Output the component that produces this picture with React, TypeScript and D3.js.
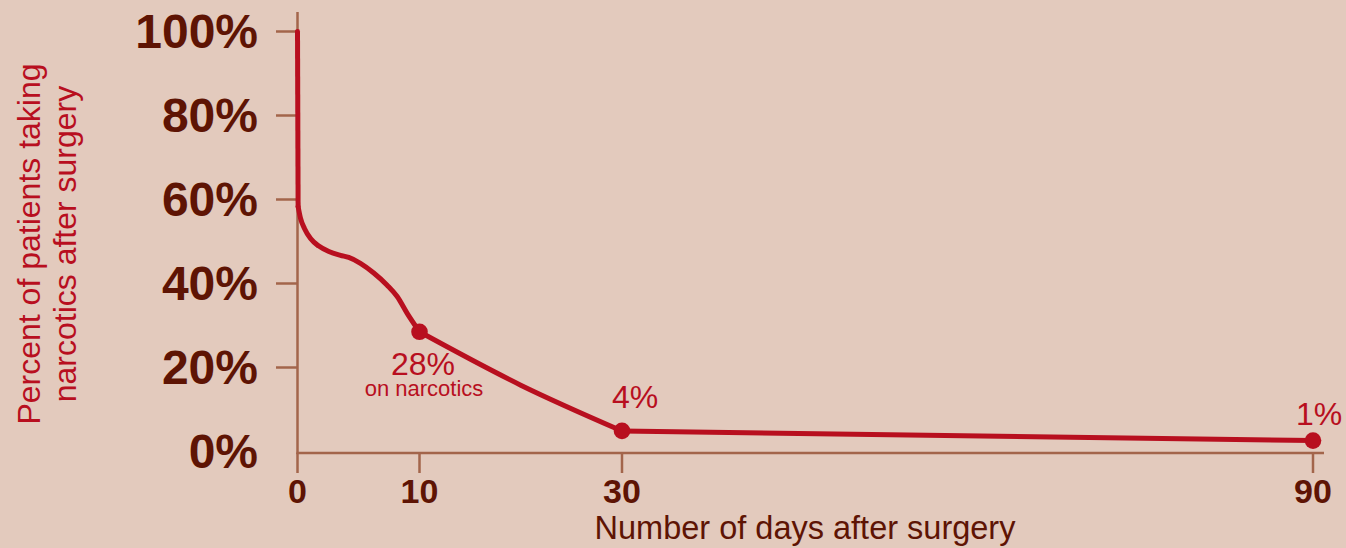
import * as d3 from "d3";

// days after surgery and percent still on narcotics
const days = [0, 0.05, 0.25, 0.57, 1.07, 1.75, 2.57, 3.52, 4.2, 5.16, 6.25, 7.35, 8.17, 8.99, 10, 20, 30, 90];
const percent = [100, 58.3, 55.5, 53.1, 50.7, 48.9, 47.6, 46.7, 46.2, 44.8, 42.5, 39.6, 36.9, 32.9, 28.5, 15.8, 4.9, 2.6];

const markerDays = [10, 30, 90];
const markerPercent = [28.5, 4.9, 2.6];
const markerLabels = ["28%", "4%", "1%"];

const xTicks = [0, 10, 30, 90];
const yTicks = [20, 40, 60, 80, 100];
const yTickLabels = ["0%", "20%", "40%", "60%", "80%", "100%"];

const W = 1346;
const H = 548;
const FONT = "'Liberation Sans', Arial, Helvetica, sans-serif";
const BG = "#e3cabd";
const AXIS = "#a3654b";
const DARK = "#5e1404";
const RED = "#b80f1f";

type Pt = [number, number];

export default function App() {
  // the x axis is not linear in the original: each labelled day has its own spot
  const x = d3.scaleLinear().domain([0, 10, 30, 90]).range([297.5, 419.5, 622, 1313]);
  const y = d3.scaleLinear().domain([0, 100]).range([451.5, 31.5]);

  const pts: Pt[] = days.map((d, i) => [d, percent[i]]);
  const i10 = days.indexOf(10);
  const i30 = days.indexOf(30);

  const smooth = d3
    .line<Pt>()
    .x((d) => x(d[0]))
    .y((d) => y(d[1]))
    .curve(d3.curveMonotoneX);
  const straight = d3
    .line<Pt>()
    .x((d) => x(d[0]))
    .y((d) => y(d[1]));

  // drop straight down first, then smooth pieces with sharp joins at the markers
  const pieces = [
    straight(pts.slice(0, 2)),
    smooth(pts.slice(1, i10 + 1)),
    smooth(pts.slice(i10, i30 + 1)),
    straight(pts.slice(i30)),
  ];

  const axisY = 453;

  return (
    <svg width={W} height={H} style={{ position: "absolute", left: 0, top: 0 }} fontFamily={FONT}>
      <rect width={W} height={H} fill={BG} />

      {/* axes */}
      <line x1={x(0)} x2={x(0)} y1={12} y2={axisY + 1} stroke={AXIS} strokeWidth={2.5} />
      <line x1={x(0) - 1} x2={1324} y1={axisY} y2={axisY} stroke={AXIS} strokeWidth={2.5} />
      {yTicks.map((t) => (
        <line key={t} x1={276} x2={x(0)} y1={y(t)} y2={y(t)} stroke={AXIS} strokeWidth={2.5} />
      ))}
      {xTicks.map((t) => (
        <line key={t} x1={x(t)} x2={x(t)} y1={axisY} y2={473} stroke={AXIS} strokeWidth={2.5} />
      ))}

      {/* tick labels */}
      {[0, ...yTicks].map((t, i) => (
        <text key={t} x={258} y={y(t) + 16.5} textAnchor="end" fontSize={48} fontWeight="bold" fill={DARK}>
          {yTickLabels[i]}
        </text>
      ))}
      {xTicks.map((t) => (
        <text key={t} x={x(t)} y={503} textAnchor="middle" fontSize={34} fontWeight="bold" fill={DARK}>
          {t}
        </text>
      ))}

      {/* axis titles */}
      <text x={805} y={539} textAnchor="middle" fontSize={32.5} fill={DARK}>
        Number of days after surgery
      </text>
      <g transform="translate(40,244) rotate(-90)">
        <text x={0} y={0} textAnchor="middle" fontSize={32} fill={RED}>
          Percent of patients taking
        </text>
        <text x={0} y={36} textAnchor="middle" fontSize={32} fill={RED}>
          narcotics after surgery
        </text>
      </g>

      {/* series */}
      {pieces.map((d, i) => (
        <path key={i} d={d ?? ""} fill="none" stroke={RED} strokeWidth={5} strokeLinejoin="round" strokeLinecap="round" />
      ))}
      {markerDays.map((d, i) => (
        <circle key={d} cx={x(d)} cy={y(markerPercent[i])} r={8.3} fill={RED} />
      ))}

      {/* annotations */}
      <text x={423} y={375} textAnchor="middle" fontSize={32} fill={RED}>
        {markerLabels[0]}
      </text>
      <text x={424} y={396} textAnchor="middle" fontSize={22} fill={RED}>
        on narcotics
      </text>
      <text x={635} y={408} textAnchor="middle" fontSize={32} fill={RED}>
        {markerLabels[1]}
      </text>
      <text x={1319} y={425} textAnchor="middle" fontSize={32} fill={RED}>
        {markerLabels[2]}
      </text>
    </svg>
  );
}
